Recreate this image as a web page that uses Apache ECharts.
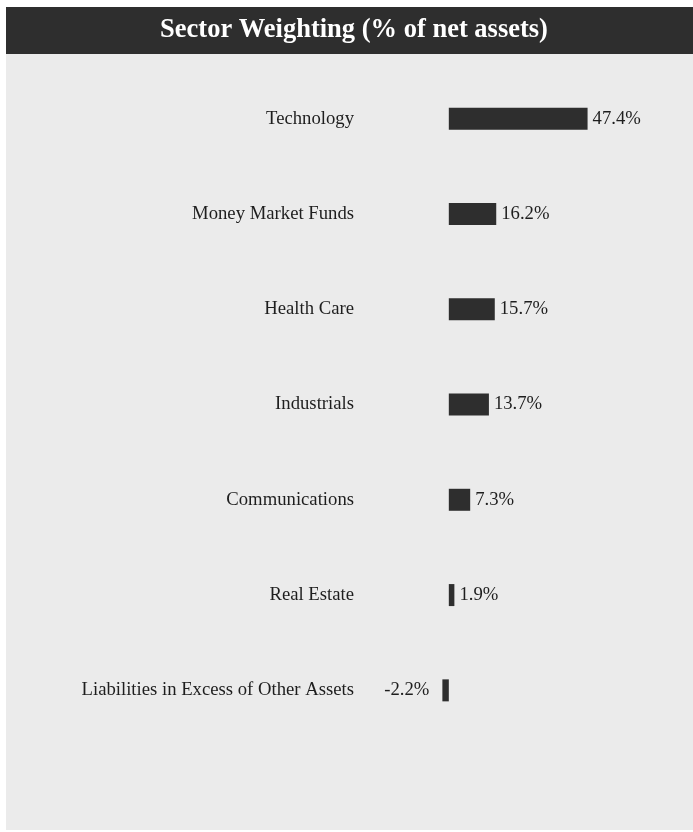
<!DOCTYPE html>
<html>
<head>
<meta charset="utf-8">
<script src="https://cdn.jsdelivr.net/npm/echarts@6/dist/echarts.min.js"></script>
<style>
  html, body { margin: 0; padding: 0; background: #ffffff; }
  #chart { position: absolute; left: 6px; top: 7px; width: 687px; height: 823px; }
</style>
</head>
<body>
<div id="chart"></div>
<script>
// sector weighting data
var sectors = ['Technology', 'Money Market Funds', 'Health Care', 'Industrials',
  'Communications', 'Real Estate', 'Liabilities in Excess of Other Assets']
var weights = [47.4, 16.2, 15.7, 13.7, 7.3, 1.9, -2.2]

var font = "'Times New Roman', 'Liberation Serif', serif"
var chart = echarts.init(document.getElementById('chart'))

chart.setOption({
  backgroundColor: '#ebebeb',
  animation: false,
  graphic: [{
    type: 'rect',
    left: 0,
    top: 0,
    shape: { width: 687, height: 47 },
    style: { fill: '#2e2e2e' },
    z: 0
  }],
  title: {
    text: 'Sector Weighting (% of net assets)',
    left: 343,
    top: 18,
    textAlign: 'center',
    textVerticalAlign: 'middle',
    textStyle: { color: '#ffffff', fontFamily: font, fontWeight: 'bold', fontSize: 26.5 }
  },
  grid: {
    left: 355,
    top: 64,
    width: 322,
    height: 667
  },
  xAxis: {
    type: 'value',
    min: -30,
    max: 80,
    show: false
  },
  yAxis: {
    type: 'category',
    inverse: true,
    data: sectors,
    axisLine: { show: false },
    axisTick: { show: false },
    splitLine: { show: false },
    axisLabel: { margin: 7, color: '#1e1e1e', fontFamily: font, fontSize: 18.7, padding: [3, 0, 0, 0] }
  },
  series: [{
    type: 'bar',
    barWidth: 22,
    itemStyle: { color: '#2e2e2e' },
    data: weights.map(function (v) {
      return {
        value: v,
        label: v < 0 ? { position: 'left', distance: 13 } : { position: 'right', distance: 5 }
      }
    }),
    label: {
      show: true,
      color: '#1e1e1e',
      fontFamily: font,
      fontSize: 18.7,
      padding: [3, 0, 0, 0],
      formatter: function (p) { return p.value.toFixed(1) + '%' }
    }
  }]
})
</script>
</body>
</html>
